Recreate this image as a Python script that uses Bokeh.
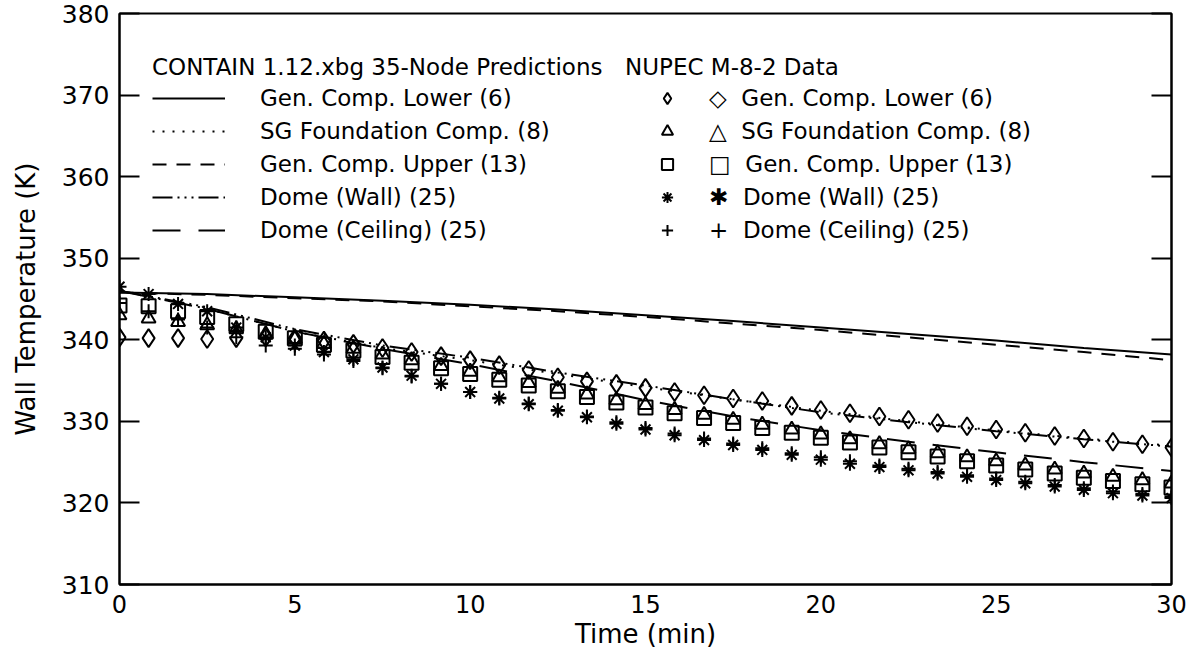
from bokeh.plotting import figure
from bokeh.models import Legend, LegendItem, LinearAxis, FixedTicker, Range1d
from bokeh.embed import file_html
from bokeh.resources import INLINE

# ---- data -------------------------------------------------------------
t_model = [0, 2.5, 5, 7.5, 10, 12.5, 15, 17.5, 20, 22.5, 25, 27.5, 30]
gen_lower_model = [345.8, 345.6, 345.2, 344.8, 344.3, 343.7, 343.0, 342.3, 341.5, 340.7, 339.9, 339.0, 338.2]
sg_found_model = [346.0, 343.8, 341.0, 339.0, 337.5, 335.8, 334.2, 332.7, 331.3, 330.0, 328.9, 327.9, 327.0]
gen_upper_model = [345.8, 345.5, 345.1, 344.7, 344.1, 343.5, 342.8, 342.0, 341.2, 340.3, 339.4, 338.5, 337.5]
dome_wall_model = [346.0, 344.0, 341.3, 339.3, 337.8, 336.0, 334.4, 332.7, 331.1, 329.9, 328.8, 327.8, 326.9]
dome_ceil_model = [346.0, 343.8, 341.0, 338.9, 337.0, 334.9, 332.6, 330.6, 328.9, 327.5, 326.2, 325.0, 323.9]

t_data = [0.0, 0.83, 1.67, 2.5, 3.33, 4.17, 5.0, 5.83, 6.67, 7.5, 8.33, 9.17, 10.0,
          10.83, 11.67, 12.5, 13.33, 14.17, 15.0, 15.83, 16.67, 17.5, 18.33, 19.17, 20.0,
          20.83, 21.67, 22.5, 23.33, 24.17, 25.0, 25.83, 26.67, 27.5, 28.33, 29.17, 30.0]
gen_lower_data = [340.3, 340.2, 340.2, 340.1, 340.2, 340.3, 340.2, 339.9, 339.5, 339.0, 338.5, 338.0, 337.5,
                  336.9, 336.3, 335.4, 334.9, 334.6, 334.1, 333.6, 333.2, 332.8, 332.5, 331.9, 331.4,
                  331.0, 330.6, 330.2, 329.8, 329.4, 329.0, 328.6, 328.2, 327.9, 327.5, 327.2, 326.8]
sg_found_data = [343.0, 342.6, 342.2, 341.8, 341.3, 340.7, 340.1, 339.5, 338.9, 338.2, 337.5, 336.8, 336.1,
                 335.4, 334.7, 334.0, 333.3, 332.6, 332.0, 331.4, 330.8, 330.2, 329.6, 329.0, 328.4,
                 327.8, 327.2, 326.6, 326.1, 325.6, 325.1, 324.6, 324.1, 323.6, 323.2, 322.8, 322.4]
gen_upper_data = [344.2, 344.1, 343.5, 342.8, 341.9, 341.0, 340.2, 339.4, 338.7, 337.9, 337.2, 336.5, 335.8,
                  335.1, 334.4, 333.7, 333.0, 332.3, 331.7, 331.0, 330.4, 329.8, 329.2, 328.6, 328.0,
                  327.4, 326.8, 326.2, 325.7, 325.1, 324.6, 324.1, 323.6, 323.1, 322.7, 322.3, 321.9]
dome_wall_data = [346.5, 345.6, 344.4, 343.5, 341.5, 340.3, 339.3, 338.5, 337.6, 336.6, 335.6, 334.6, 333.6,
                  332.8, 332.1, 331.3, 330.5, 329.7, 329.0, 328.3, 327.7, 327.1, 326.5, 325.9, 325.3,
                  324.8, 324.4, 324.0, 323.6, 323.2, 322.8, 322.4, 322.0, 321.6, 321.2, 320.9, 320.6]
dome_ceil_data = [344.5, 343.5, 342.5, 341.5, 340.3, 339.3, 338.9, 338.2, 337.4, 336.5, 335.5, 334.6, 333.6,
                  332.9, 332.2, 331.4, 330.6, 329.9, 329.2, 328.5, 327.9, 327.3, 326.7, 326.1, 325.6,
                  325.1, 324.6, 324.2, 323.8, 323.4, 323.0, 322.6, 322.2, 321.8, 321.4, 321.1, 320.8]

model_labels = ["Gen. Comp. Lower (6)", "SG Foundation Comp. (8)", "Gen. Comp. Upper (13)",
                "Dome (Wall) (25)", "Dome (Ceiling) (25)"]
data_labels = ["\u25C7  Gen. Comp. Lower (6)", "\u25B3  SG Foundation Comp. (8)",
               "\u25A1  Gen. Comp. Upper (13)", "\u2731  Dome (Wall) (25)", "+  Dome (Ceiling) (25)"]
x_ticks = [0, 5, 10, 15, 20, 25, 30]
y_ticks = [310, 320, 330, 340, 350, 360, 370, 380]

FONT = "DejaVu Sans"

p = figure(width=1190, height=658, output_backend="svg", toolbar_location=None,
           x_range=Range1d(0, 30), y_range=Range1d(310, 380),
           min_border_left=119, min_border_right=19, min_border_top=13, min_border_bottom=74)
p.background_fill_color = "white"
p.border_fill_color = "white"
p.outline_line_color = "black"
p.outline_line_width = 2
p.xgrid.visible = False
p.ygrid.visible = False

# axes
p.xaxis.ticker = FixedTicker(ticks=x_ticks)
p.xaxis.major_tick_in = 0
p.xaxis.major_tick_out = 0
p.xaxis.minor_tick_line_color = None
p.xaxis.axis_line_width = 2
p.xaxis.major_label_text_font = FONT
p.xaxis.major_label_text_font_size = "24px"
p.xaxis.major_label_text_color = "black"
p.xaxis.major_label_standoff = 10
p.xaxis.axis_label = "Time (min)"
p.xaxis.axis_label_text_font = FONT
p.xaxis.axis_label_text_font_size = "26px"
p.xaxis.axis_label_text_color = "black"
p.xaxis.axis_label_text_font_style = "normal"
p.xaxis.axis_label_standoff = 3

p.yaxis.ticker = FixedTicker(ticks=y_ticks)
p.yaxis.major_tick_in = 20
p.yaxis.major_tick_out = 0
p.yaxis.major_tick_line_width = 2
p.yaxis.minor_tick_line_color = None
p.yaxis.axis_line_width = 2
p.yaxis.major_label_text_font = FONT
p.yaxis.major_label_text_font_size = "25px"
p.yaxis.major_label_text_color = "black"
p.yaxis.major_label_standoff = 10
p.yaxis.axis_label = "Wall Temperature (K)"
p.yaxis.axis_label_text_font = FONT
p.yaxis.axis_label_text_font_size = "26px"
p.yaxis.axis_label_text_color = "black"
p.yaxis.axis_label_text_font_style = "normal"
p.yaxis.axis_label_standoff = 18

right_axis = LinearAxis(ticker=FixedTicker(ticks=y_ticks))
right_axis.major_tick_in = 20
right_axis.major_tick_out = 0
right_axis.major_tick_line_width = 2
right_axis.minor_tick_line_color = None
right_axis.axis_line_width = 2
right_axis.major_label_overrides = {v: "" for v in y_ticks}
right_axis.major_label_standoff = 0
p.add_layout(right_axis, "right")

# model lines
LW = 2
r_m1 = p.line(t_model, gen_lower_model, line_color="black", line_width=LW)
r_m2 = p.line(t_model, sg_found_model, line_color="black", line_width=LW, line_dash="2 8")
r_m3 = p.line(t_model, gen_upper_model, line_color="black", line_width=LW, line_dash="14 10")
r_m4 = p.line(t_model, dome_wall_model, line_color="black", line_width=LW, line_dash="20 5 2 5 2 5 2 5")
r_m5 = p.line(t_model, dome_ceil_model, line_color="black", line_width=LW, line_dash="28 18")

# data markers
MS = 14
r_d1 = p.scatter(t_data, gen_lower_data, marker="diamond", size=MS + 4, fill_color=None,
                 line_color="black", line_width=2)
r_d2 = p.scatter(t_data, sg_found_data, marker="triangle", size=MS, fill_color=None,
                 line_color="black", line_width=2)
r_d3 = p.scatter(t_data, gen_upper_data, marker="square", size=MS, fill_color=None,
                 line_color="black", line_width=2)
r_d4 = p.scatter(t_data, dome_wall_data, marker="asterisk", size=MS, fill_color=None,
                 line_color="black", line_width=2)
r_d5 = p.scatter(t_data, dome_ceil_data, marker="cross", size=MS, fill_color=None,
                 line_color="black", line_width=2)

common = dict(border_line_color=None, background_fill_alpha=0, padding=0, margin=0,
              spacing=5, label_height=28, glyph_height=28,
              label_text_font=FONT, label_text_font_size="23px", label_text_color="black",
              title_text_font=FONT, title_text_font_size="23px", title_text_color="black",
              title_text_font_style="normal", title_standoff=4)

leg_model = Legend(items=[LegendItem(label=l, renderers=[r]) for l, r in
                          zip(model_labels, [r_m1, r_m2, r_m3, r_m4, r_m5])],
                   title="CONTAIN 1.12.xbg 35-Node Predictions",
                   location=(33, 340), glyph_width=73, label_standoff=35, **common)
leg_data = Legend(items=[LegendItem(label=l, renderers=[r]) for l, r in
                         zip(data_labels, [r_d1, r_d2, r_d3, r_d4, r_d5])],
                  title="NUPEC M-8-2 Data",
                  location=(506, 340), glyph_width=84, label_standoff=0, **common)
p.add_layout(leg_model)
p.add_layout(leg_data)

open("out.html", "w").write(file_html(p, INLINE))
